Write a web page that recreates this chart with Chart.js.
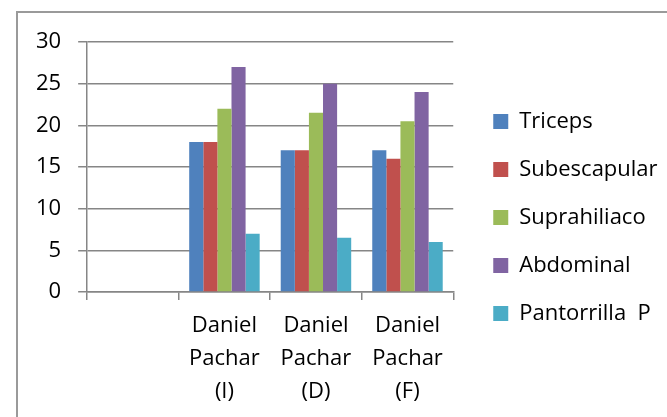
<!DOCTYPE html>
<html>
<head>
<meta charset="utf-8">
<script src="https://cdn.jsdelivr.net/npm/chart.js@4.4.1/dist/chart.umd.min.js"></script>
<style>
  html, body { margin: 0; padding: 0; background: #fff; overflow: hidden; }
  #frame { position: absolute; left: 16px; top: 11px; width: 700px; height: 450px; border: 2px solid #9a9a9a; }
  #wrap { position: absolute; left: 0; top: 0; width: 667px; height: 417px; }
</style>
</head>
<body>
<div id="frame"></div>
<div id="wrap"><canvas id="grafico" width="667" height="417"></canvas></div>
<script>
// categorias (la primera esta vacia en el original)
const categorias = ['', ['Daniel', 'Pachar', '(I)'], ['Daniel', 'Pachar', '(D)'], ['Daniel', 'Pachar', '(F)']];

const triceps = [null, 18, 17, 17];
const subescapular = [null, 18, 17, 16];
const suprahiliaco = [null, 22, 21.5, 20.5];
const abdominal = [null, 27, 25, 24];
const pantorrilla = [null, 7, 6.5, 6];

const fuente = "'Open Sans', sans-serif";

function serie(nombre, datos, color) {
    return {
        label: nombre,
        data: datos,
        backgroundColor: color,
        borderWidth: 0
    };
}

// la leyenda queda limitada en ancho por chart.js: se mueve y se ensancha
const moverLeyenda = {
    id: 'moverLeyenda',
    afterLayout(chart) {
        const lg = chart.legend;
        lg.left += 14;
        lg.right = 700;
        lg.width = lg.right - lg.left;
        lg.top -= 12;
        lg.bottom -= 12;
    }
};

function dibujar() {
    const ctx = document.getElementById('grafico').getContext('2d');
    new Chart(ctx, {
        type: 'bar',
        data: {
            labels: categorias,
            datasets: [
                serie('Triceps', triceps, '#4F81BD'),
                serie('Subescapular', subescapular, '#C0504D'),
                serie('Suprahiliaco', suprahiliaco, '#9BBB59'),
                serie('Abdominal', abdominal, '#8064A2'),
                serie('Pantorrilla  P', pantorrilla, '#4BACC6')
            ]
        },
        plugins: [moverLeyenda],
        options: {
            responsive: false,
            animation: false,
            layout: { padding: { left: 19, top: 42, right: 69, bottom: 0 } },
            datasets: { bar: { categoryPercentage: 0.77, barPercentage: 1 } },
            plugins: {
                tooltip: { enabled: false },
                legend: {
                    position: 'right',
                    labels: {
                        boxWidth: 15,
                        boxHeight: 15,
                        padding: 26,
                        color: '#000',
                        font: { family: fuente, size: 22 }
                    }
                }
            },
            scales: {
                x: {
                    grid: { drawOnChartArea: false, color: '#868686', lineWidth: 1.5, tickLength: 8 },
                    border: { color: '#868686', width: 1.5 },
                    ticks: { color: '#000', padding: 9, maxRotation: 0, font: { family: fuente, size: 22, lineHeight: 1.5 } }
                },
                y: {
                    min: 0,
                    max: 30,
                    ticks: { stepSize: 5, color: '#000', padding: 17, font: { family: fuente, size: 22 } },
                    grid: { color: '#868686', lineWidth: 1.5, tickLength: 9 },
                    border: { color: '#868686', width: 1.5 }
                }
            }
        }
    });
}

// esperar la fuente para que las medidas salgan bien
document.fonts.load("22px 'Open Sans'").then(dibujar, dibujar);
</script>
</body>
</html>
